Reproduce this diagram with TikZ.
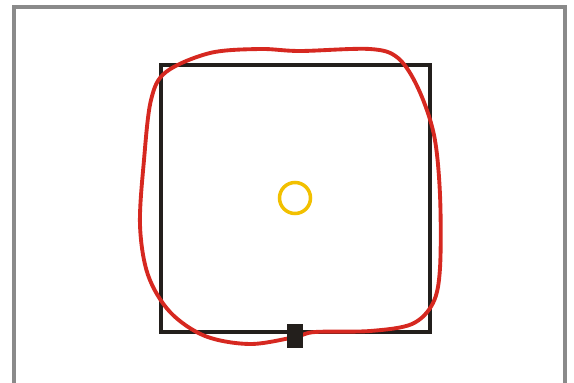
\documentclass[tikz,border=0pt]{standalone}
\usepackage{tikz}
\definecolor{framegray}{RGB}{138,138,138}
\definecolor{boxblack}{RGB}{35,31,28}
\definecolor{loopred}{RGB}{214,40,32}
\definecolor{ringyellow}{RGB}{242,192,0}

\begin{document}
\begin{tikzpicture}[x=1cm,y=1cm]
\begin{scope}[x=0.02cm,y=-0.02cm]
\useasboundingbox (0,0) rectangle (574,382);
\draw[framegray,line width=1.8pt] (14,390) -- (14,7) -- (565,7) -- (565,390);
\draw[boxblack,line width=2pt] (161,65) rectangle (430,332);
\draw[loopred,line width=2.2pt] plot[smooth cycle,tension=0.55] coordinates {
  (295,337) (250,344) (205,336) (170,312) (148,275) (140,225) (144,160)
  (151,100) (166,72) (210,53) (260,49) (300,51) (370,49) (398,58)
  (418,88) (434,135) (440,195) (440,268) (433,303) (412,324) (370,331) (315,332)};
\draw[ringyellow,line width=2pt] (295,198) circle (15.5);
\fill[boxblack] (287,324) rectangle (303,348);
\end{scope}
\end{tikzpicture}
\end{document}
